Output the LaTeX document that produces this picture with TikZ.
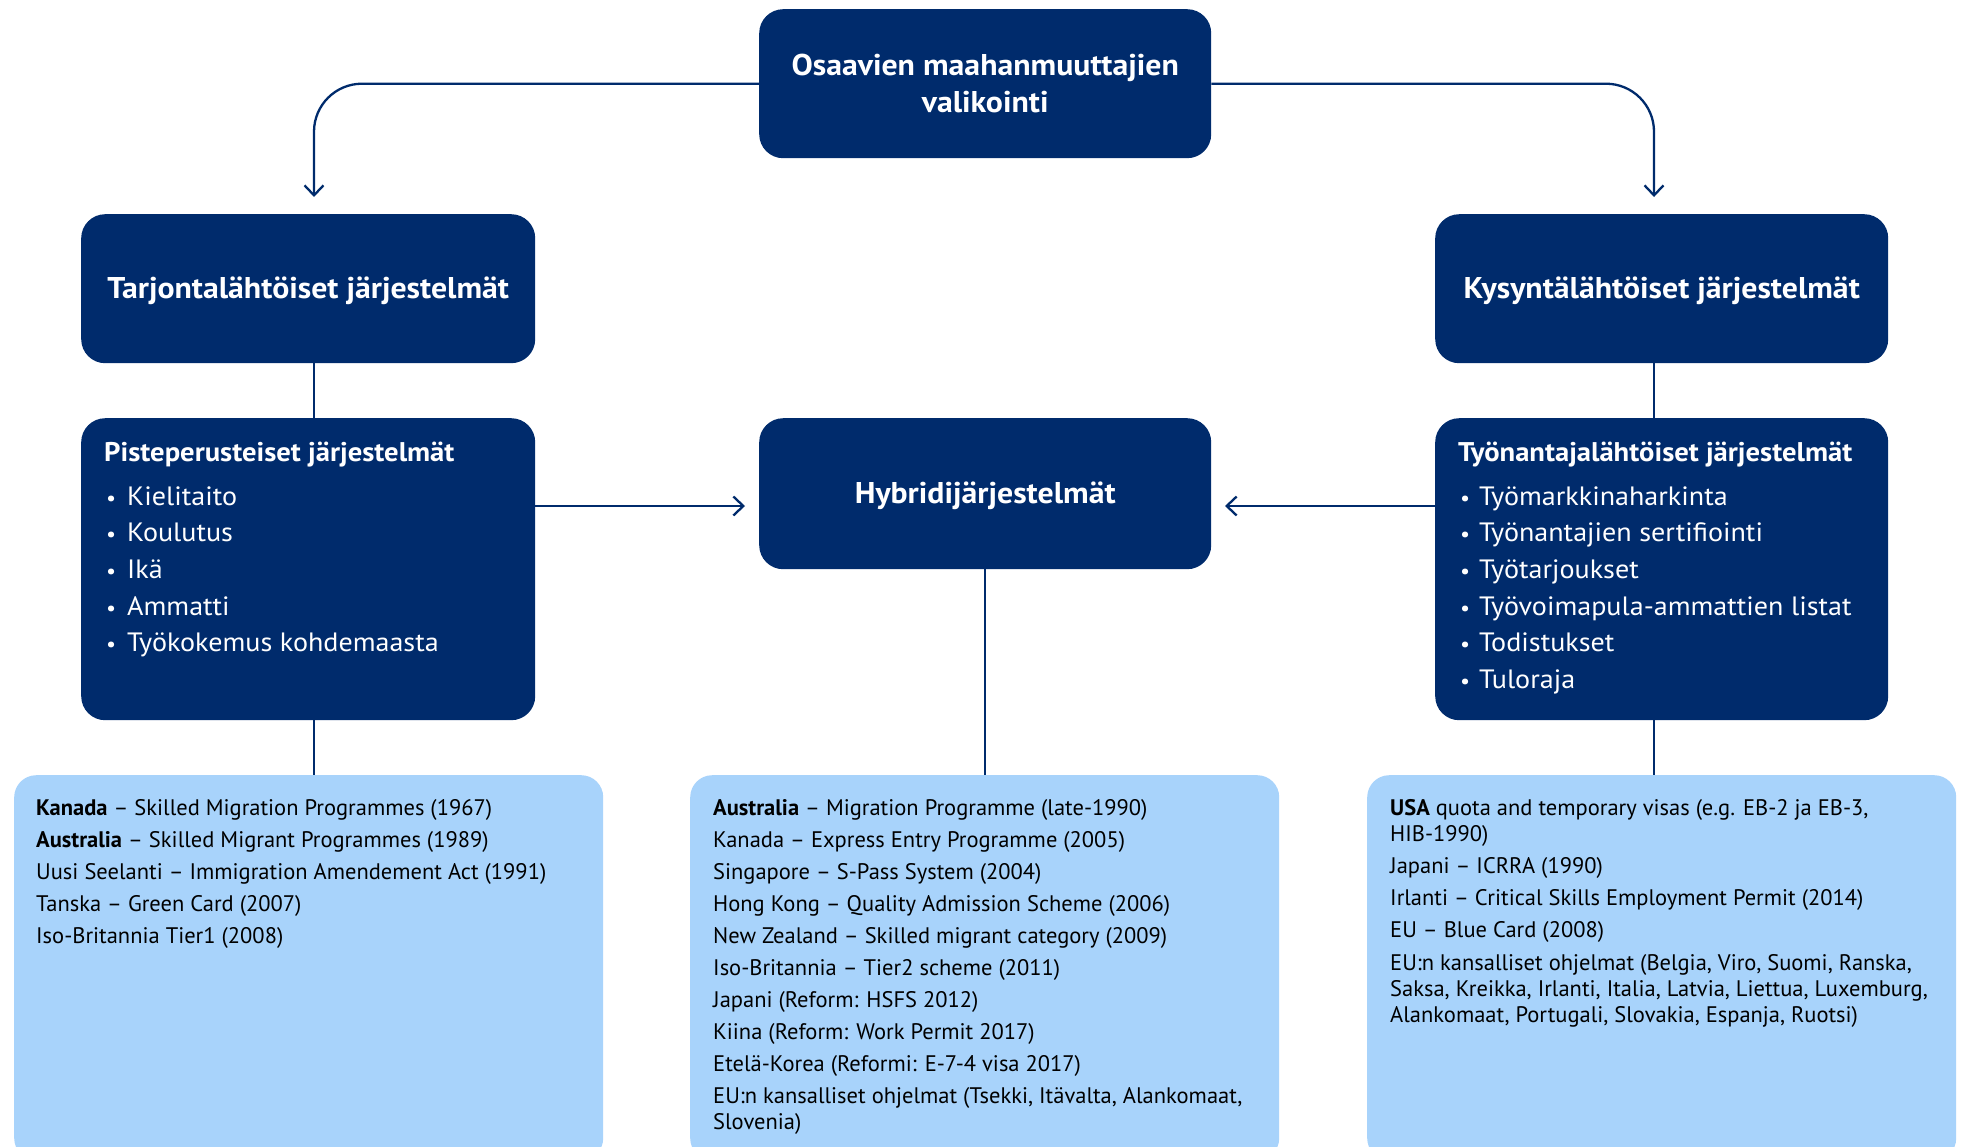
\documentclass[tikz,border=0pt]{standalone}
\usepackage{fontspec}
\setmainfont{PT Sans}
\newfontfamily\wfont{PT Sans}[FakeStretch=1.06]
\usetikzlibrary{arrows.meta}
\definecolor{navy}{RGB}{0,43,108}
\definecolor{lightb}{RGB}{168,211,251}
\begin{document}
\begin{tikzpicture}[x=1pt,y=-1pt,
 dark/.style={fill=navy, draw=none, rounded corners=24pt, inner sep=0pt, anchor=north west},
 light/.style={fill=lightb, draw=none, rounded corners=22pt, inner sep=0pt, anchor=north west},
 conn/.style={draw=navy, line width=2.3pt},
 arr/.style={conn, -{Straight Barb[length=10pt, width=19pt]}},
 ttl/.style={text=white, font=\wfont\fontsize{30}{36.7}\selectfont\bfseries, align=center, inner sep=0pt},
 ltitle/.style={text=white, font=\wfont\fontsize{27}{30}\selectfont\bfseries, anchor=base west, inner sep=0pt},
 item/.style={text=white, font=\wfont\fontsize{26.5}{30}\selectfont, anchor=base west, inner sep=0pt},
 bul/.style={text=white, font=\wfont\fontsize{21}{26}\selectfont, anchor=base west, inner sep=0pt},
 btxt/.style={text=black, font=\fontsize{22.5}{27}\selectfont, anchor=base west, inner sep=0pt},
]
\useasboundingbox (0,0) rectangle (1964,1146);
\clip (0,0) rectangle (1964,1146);

% dark boxes
\node[dark, minimum width=452pt, minimum height=149pt] (top) at (759,9) {};
\node[ttl] (toptxt) at (top.center) {Osaavien maahanmuuttajien\\valikointi};
\node[dark, minimum width=454pt, minimum height=149pt] (tarj) at (81,214) {};
\node[ttl, yshift=-2pt] (tarjtxt) at (tarj.center) {Tarjontalähtöiset järjestelmät};
\node[dark, minimum width=453pt, minimum height=149pt] (kys) at (1435,214) {};
\node[ttl, yshift=-2pt] (kystxt) at (kys.center) {Kysyntälähtöiset järjestelmät};
\node[dark, minimum width=454pt, minimum height=302pt] (piste) at (81,418) {};
\node[dark, minimum width=452pt, minimum height=151pt] (hyb) at (759,418) {};
\node[ttl, yshift=-2pt] (hybtxt) at (hyb.center) {Hybridijärjestelmät};
\node[dark, minimum width=453pt, minimum height=302pt] (tyo) at (1435,418) {};

% list contents
\node[ltitle] (pistettl) at (104,461) {Pisteperusteiset järjestelmät};
\foreach \yy/\lbl [count=\i] in {505/Kielitaito, 541.7/Koulutus, 578.4/Ikä, 615.1/Ammatti, 651.8/Työkokemus kohdemaasta}{
  \node[bul] (pb\i) at (106,\yy) {•};
  \node[item] (pi\i) at (127,\yy) {\lbl};
}
\node[ltitle] (tyottl) at (1458,461) {Työnantajalähtöiset järjestelmät};
\foreach \yy/\lbl [count=\i] in {505/Työmarkkinaharkinta, 541.7/Työnantajien sertifiointi, 578.4/Työtarjoukset, 615.1/Työvoimapula-ammattien listat, 651.8/Todistukset, 688.5/Tuloraja}{
  \node[bul] (tb\i) at (1460,\yy) {•};
  \node[item] (ti\i) at (1479,\yy) {\lbl};
}

% light boxes
\node[light, minimum width=589pt, minimum height=385pt] (bL) at (14,775) {};
\node[light, minimum width=589pt, minimum height=385pt] (bM) at (690,775) {};
\node[light, minimum width=589pt, minimum height=385pt] (bR) at (1367,775) {};

\foreach \yy/\lbl [count=\i] in {815/{\textbf{Kanada} – Skilled Migration Programmes (1967)}, 847/{\textbf{Australia} – Skilled Migrant Programmes (1989)}, 879/{Uusi Seelanti – Immigration Amendement Act (1991)}, 911/{Tanska – Green Card (2007)}, 943/{Iso-Britannia Tier1 (2008)}}{
  \node[btxt] (lt\i) at (36,\yy) {\lbl};
}
\foreach \yy/\lbl [count=\i] in {815/{\textbf{Australia} – Migration Programme (late-1990)}, 847/{Kanada – Express Entry Programme (2005)}, 879/{Singapore – S-Pass System (2004)}, 911/{Hong Kong – Quality Admission Scheme (2006)}, 943/{New Zealand – Skilled migrant category (2009)}, 975/{Iso-Britannia – Tier2 scheme (2011)}, 1007/{Japani (Reform: HSFS 2012)}, 1039/{Kiina (Reform: Work Permit 2017)}, 1071/{Etelä-Korea (Reformi: E-7-4 visa 2017)}, 1103/{EU:n kansalliset ohjelmat (Tsekki, Itävalta, Alankomaat,}, 1129/{Slovenia)}}{
  \node[btxt] (mt\i) at (713,\yy) {\lbl};
}
\foreach \yy/\lbl [count=\i] in {815/{\textbf{USA} quota and temporary visas (e.g. EB-2 ja EB-3,}, 841.7/{HIB-1990)}, 873.5/{Japani – ICRRA (1990)}, 905.7/{Irlanti – Critical Skills Employment Permit (2014)}, 937.7/{EU – Blue Card (2008)}, 970/{EU:n kansalliset ohjelmat (Belgia, Viro, Suomi, Ranska,}, 996/{Saksa, Kreikka, Irlanti, Italia, Latvia, Liettua, Luxemburg,}, 1022/{Alankomaat, Portugali, Slovakia, Espanja, Ruotsi)}}{
  \node[btxt] (rt\i) at (1390,\yy) {\lbl};
}

% connectors
\coordinate (aL) at (314,197);
\coordinate (aR) at (1654,197);
\coordinate (hL) at (745,506);
\coordinate (hR) at (1225,506);
\draw[arr, rounded corners=48pt] (top.west) -| (aL);
\draw[arr, rounded corners=48pt] (top.east) -| (aR);
\draw[conn] (tarj.south -| aL) -- (piste.north -| aL);
\draw[conn] (kys.south -| aR) -- (tyo.north -| aR);
\draw[conn] (piste.south -| aL) -- (bL.north -| aL);
\draw[conn] (tyo.south -| aR) -- (bR.north -| aR);
\draw[conn] (hyb.south) -- (bM.north -| hyb.south);
\draw[arr] (piste.east |- hL) -- (hL);
\draw[arr] (tyo.west |- hR) -- (hR);
\end{tikzpicture}
\end{document}
